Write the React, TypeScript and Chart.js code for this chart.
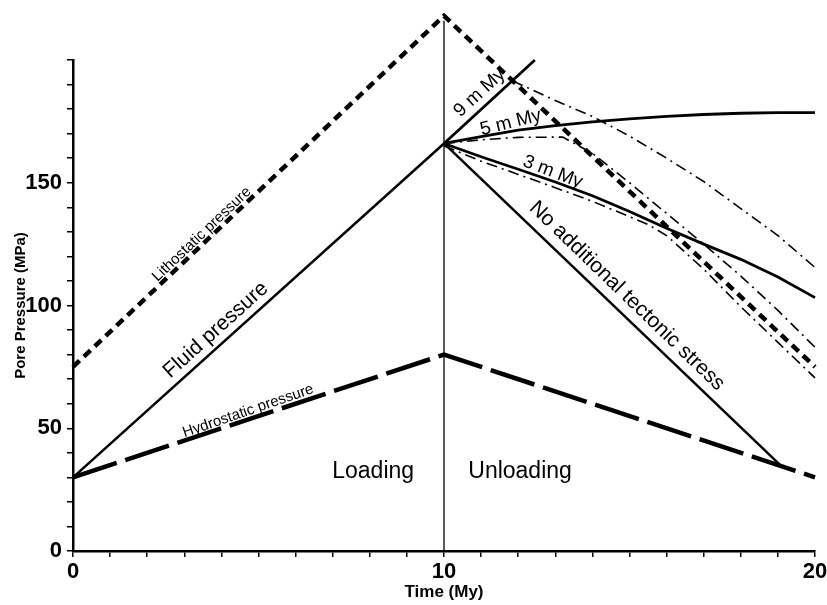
import React, { useEffect, useRef } from 'react';
import { Chart, registerables } from 'chart.js';

Chart.register(...registerables);

// ---- axis ticks ----
const xTickValues = [0, 1, 2, 3, 4, 5, 6, 7, 8, 9, 10, 11, 12, 13, 14, 15, 16, 17, 18, 19, 20];
const xTickLabels = [0, 10, 20];
const yTickValues = [0, 10, 20, 30, 40, 50, 60, 70, 80, 90, 100, 110, 120, 130, 140, 150, 160, 170, 180, 190, 200];
const yTickLabels = [0, 50, 100, 150];

// ---- series (Time in My, Pressure in MPa) ----
const lithostaticX = [0, 10, 20];
const lithostaticY = [75, 218, 75];

const hydrostaticX = [0, 10, 20];
const hydrostaticY = [30, 80, 30];

const fluidX = [0, 10];
const fluidY = [30, 166];

const noTectonicX = [10, 19.1];
const noTectonicY = [166, 34.5];

const rate9X = [10, 12.45];
const rate9Y = [166, 200];

const rate5X = [10, 11, 12, 13, 14, 15, 16, 17, 18, 19, 20];
const rate5Y = [166, 168.8, 171.4, 173.3, 174.8, 176, 177, 177.8, 178.3, 178.6, 178.6];

const rate3X = [10, 11, 12, 13, 14, 15, 16, 17, 18, 19, 20];
const rate3Y = [166, 160.6, 155.5, 150.3, 144.7, 138.3, 131.5, 125, 118.8, 111.6, 103.2];

// dash-dot companions
const rate9DashX = [11.85, 13, 14, 15, 16, 17, 18, 19, 20];
const rate9DashY = [191.5, 183.5, 177, 169, 160, 150.5, 139.5, 128.5, 115.5];

const rate5DashX = [10, 11, 12, 13.2, 14, 15, 16, 17, 18, 19, 20];
const rate5DashY = [166, 167.5, 168.5, 168.6, 162, 150, 137.5, 125, 112, 98, 83];

const rate3DashX = [10, 11, 12, 13, 14, 15, 15.5, 16, 17, 18, 19, 20];
const rate3DashY = [165, 158.8, 153.4, 148, 142.4, 136.2, 133, 128.5, 114.8, 99.5, 85, 70.5];

const dividerX = [10, 10];
const dividerY = [0, 216];

// ---- annotation texts ----
const labelTexts = [
  'Loading',
  'Unloading',
  'Fluid pressure',
  'Lithostatic pressure',
  'Hydrostatic pressure',
  '9 m My',
  '5 m My',
  '3 m My',
  'No additional tectonic stress',
];
const labelX = [8.09, 12.05, 3.85, 3.47, 4.72, 10.96, 11.8, 12.93, 14.93];
const labelY = [32.2, 32.2, 90, 129, 57, 186.6, 174.5, 154.4, 103.9];
const labelAngle = [0, 0, -42, -43.5, -19, -42.7, -14, 21, 44];
const labelSize = [23, 23, 21, 15, 15, 19, 19, 19, 21];

const FONT = "'Liberation Sans', Arial, Helvetica, sans-serif";

const pts = (xs: number[], ys: number[]) => xs.map((x, i) => ({ x, y: ys[i] }));

const labelPlugin = {
  id: 'rotatedLabels',
  afterDatasetsDraw(chart: any) {
    const ctx = chart.ctx;
    const xs = chart.scales.x;
    const ys = chart.scales.y;
    ctx.save();
    ctx.fillStyle = '#000';
    ctx.textAlign = 'center';
    ctx.textBaseline = 'middle';
    labelTexts.forEach((t, i) => {
      const px = xs.getPixelForValue(labelX[i]);
      const py = ys.getPixelForValue(labelY[i]);
      ctx.save();
      ctx.translate(px, py);
      ctx.rotate((labelAngle[i] * Math.PI) / 180);
      ctx.font = `${labelSize[i]}px ${FONT}`;
      ctx.fillText(t, 0, 0);
      ctx.restore();
    });
    ctx.restore();
  },
};

export default function App() {
  const ref = useRef<HTMLCanvasElement | null>(null);

  useEffect(() => {
    if (!ref.current) return;
    const base = {
      showLine: true,
      pointRadius: 0,
      pointHoverRadius: 0,
      borderColor: '#000',
      backgroundColor: '#000',
      fill: false,
      tension: 0,
      clip: false as any,
      borderCapStyle: 'butt' as const,
    };
    const dashDot = [11, 5, 2, 5];
    const chart = new Chart(ref.current, {
      type: 'scatter',
      data: {
        datasets: [
          { ...base, label: 'divider', data: pts(dividerX, dividerY), borderWidth: 1.3 },
          { ...base, label: 'Lithostatic pressure', data: pts(lithostaticX, lithostaticY), borderWidth: 4.5, borderDash: [9, 6] },
          { ...base, label: 'Hydrostatic pressure', data: pts(hydrostaticX, hydrostaticY), borderWidth: 4.5, borderDash: [46, 9] },
          { ...base, label: 'Fluid pressure', data: pts(fluidX, fluidY), borderWidth: 2.5 },
          { ...base, label: 'No additional tectonic stress', data: pts(noTectonicX, noTectonicY), borderWidth: 2.5 },
          { ...base, label: '9 m My', data: pts(rate9X, rate9Y), borderWidth: 2.8 },
          { ...base, label: '5 m My', data: pts(rate5X, rate5Y), borderWidth: 2.8 },
          { ...base, label: '3 m My', data: pts(rate3X, rate3Y), borderWidth: 2.8 },
          { ...base, label: '9 m My (dash-dot)', data: pts(rate9DashX, rate9DashY), borderWidth: 1.6, borderDash: dashDot },
          { ...base, label: '5 m My (dash-dot)', data: pts(rate5DashX, rate5DashY), borderWidth: 1.6, borderDash: dashDot },
          { ...base, label: '3 m My (dash-dot)', data: pts(rate3DashX, rate3DashY), borderWidth: 1.6, borderDash: dashDot },
        ] as any,
      },
      options: {
        animation: false,
        responsive: false,
        devicePixelRatio: 1,
        events: [],
        layout: { padding: { top: 60, right: 12, left: 0, bottom: 0 } },
        plugins: {
          legend: { display: false },
          tooltip: { enabled: false },
          title: { display: false },
        },
        scales: {
          x: {
            type: 'linear',
            min: 0,
            max: 20,
            afterBuildTicks: (s: any) => {
              s.ticks = xTickValues.map((v) => ({ value: v }));
            },
            afterFit: (s: any) => {
              s.height = 54;
              s.paddingLeft = 0;
              s.paddingRight = 0;
            },
            grid: {
              display: true,
              drawOnChartArea: false,
              drawTicks: true,
              tickLength: 6,
              color: '#000',
              lineWidth: 1.5,
            },
            border: { display: true, color: '#000', width: 2.5 },
            ticks: {
              autoSkip: false,
              maxRotation: 0,
              padding: 2,
              color: '#000',
              font: { family: FONT, size: 22, weight: 'bold' },
              callback: (v: any) => (xTickLabels.includes(Number(v)) ? String(v) : ''),
            },
            title: {
              display: true,
              text: 'Time (My)',
              color: '#000',
              font: { family: FONT, size: 17, weight: 'bold' },
              padding: { top: 0, bottom: 2 },
            },
          },
          y: {
            type: 'linear',
            min: 0,
            max: 200,
            afterBuildTicks: (s: any) => {
              s.ticks = yTickValues.map((v) => ({ value: v }));
            },
            afterFit: (s: any) => {
              s.width = 73;
              s.paddingTop = 0;
              s.paddingBottom = 0;
            },
            grid: {
              display: true,
              drawOnChartArea: false,
              drawTicks: true,
              tickLength: 6,
              color: '#000',
              lineWidth: 1.5,
            },
            border: { display: true, color: '#000', width: 2.5 },
            ticks: {
              autoSkip: false,
              padding: 5,
              color: '#000',
              font: { family: FONT, size: 22, weight: 'bold' },
              callback: (v: any) => (yTickLabels.includes(Number(v)) ? String(v) : ''),
            },
            title: {
              display: true,
              text: 'Pore Pressure (MPa)',
              color: '#000',
              font: { family: FONT, size: 15, weight: 'bold' },
              padding: { top: 12, bottom: 0 },
            },
          },
        },
      } as any,
      plugins: [labelPlugin],
    });
    return () => chart.destroy();
  }, []);

  return (
    <div style={{ position: 'absolute', left: 0, top: 0, width: 827, height: 605, background: '#fff' }}>
      <canvas ref={ref} width={827} height={605} style={{ display: 'block', width: 827, height: 605 }} />
    </div>
  );
}
